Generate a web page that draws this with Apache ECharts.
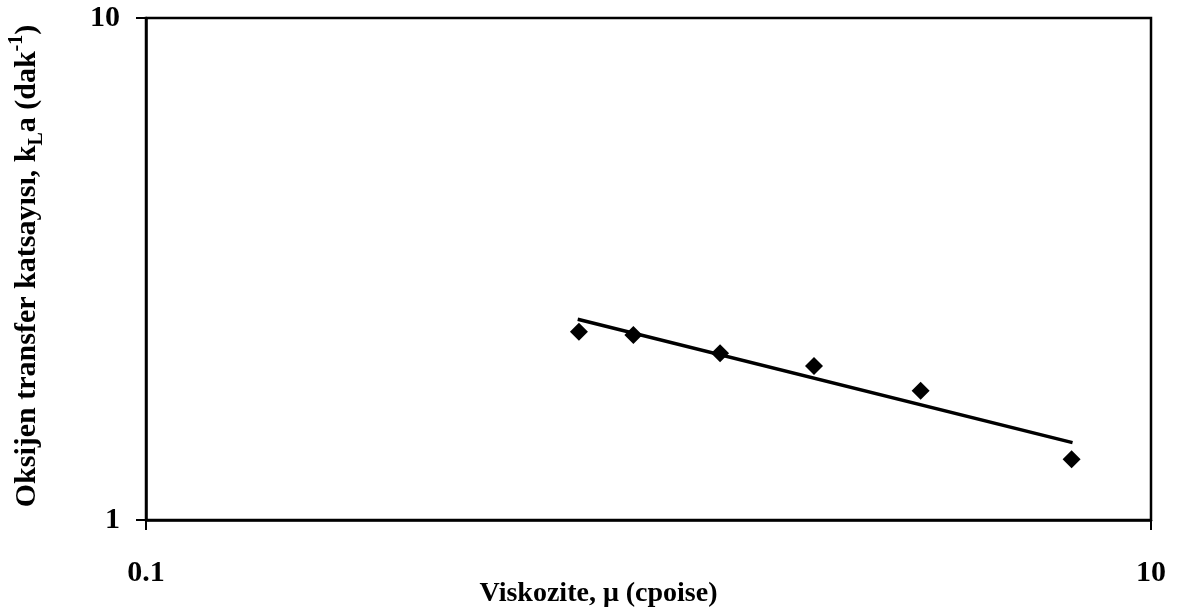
<!DOCTYPE html>
<html>
<head>
<meta charset="utf-8">
<title>kLa - viskozite</title>
<script src="https://cdn.jsdelivr.net/npm/echarts@6/dist/echarts.min.js"></script>
<style>
  html, body { margin: 0; padding: 0; background: #fff; }
  #chart { width: 1181px; height: 616px; }
</style>
</head>
<body>
<div id="chart"></div>
<script>
// olculen noktalar (viskozite, cpoise  -  kLa, 1/dak)
const viscosity = [0.727, 0.933, 1.388, 2.135, 3.48, 6.95]
const kla = [2.372, 2.336, 2.148, 2.026, 1.810, 1.321]
// egilim cizgisi uc noktalari
const fitX = [0.723, 6.98]
const fitY = [2.511, 1.426]
// eksen etiketleri
const xTicks = [0.1, 10]
const yTicks = [1, 10]

const font = '"Liberation Serif", "DejaVu Serif", serif'

const chart = echarts.init(document.getElementById('chart'))

const pairs = (xs, ys) => xs.map((x, i) => [x, ys[i]])

const option = {
  animation: false,
  backgroundColor: '#fff',
  grid: {
    show: true,
    left: 146,
    right: 30,
    top: 18,
    bottom: 96,
    containLabel: false,
    outerBoundsMode: 'none',
    borderColor: '#000',
    borderWidth: 2.5
  },
  xAxis: {
    type: 'log',
    logBase: 10,
    min: 0.1,
    max: 10,
    name: 'Viskozite, μ (cpoise)',
    nameLocation: 'middle',
    nameGap: 60,
    nameMoveOverlap: false,
    nameTextStyle: {
      fontFamily: font,
      fontWeight: 'bold',
      fontSize: 28,
      color: '#000',
      padding: [0, 100, 0, 0]
    },
    axisLine: { lineStyle: { color: '#000', width: 2.5 } },
    axisTick: {
      customValues: xTicks,
      length: 10,
      lineStyle: { color: '#000', width: 2 }
    },
    axisLabel: {
      customValues: xTicks,
      margin: 38,
      fontFamily: font,
      fontWeight: 'bold',
      fontSize: 30,
      color: '#000',
      formatter: (v) => String(+v.toPrecision(3))
    },
    splitLine: { show: false },
    minorTick: { show: false }
  },
  yAxis: {
    type: 'log',
    logBase: 10,
    min: 1,
    max: 10,
    name: 'Oksijen transfer katsayısı, k{sub|L}a (dak{sup|-1})',
    nameLocation: 'middle',
    nameRotate: 90,
    nameGap: 99,
    nameMoveOverlap: false,
    nameTextStyle: {
      fontFamily: font,
      fontWeight: 'bold',
      fontSize: 30,
      color: '#000',
      lineHeight: 40,
      padding: [0, 0, 0, 6],
      rich: {
        sub: { fontFamily: font, fontWeight: 'bold', fontSize: 20, verticalAlign: 'bottom', color: '#000' },
        sup: { fontFamily: font, fontWeight: 'bold', fontSize: 20, verticalAlign: 'top', color: '#000' }
      }
    },
    axisLine: { lineStyle: { color: '#000', width: 2.5 } },
    axisTick: {
      customValues: yTicks,
      length: 10,
      lineStyle: { color: '#000', width: 2 }
    },
    axisLabel: {
      customValues: yTicks,
      margin: 26,
      fontFamily: font,
      fontWeight: 'bold',
      fontSize: 30,
      color: '#000',
      formatter: (v) => String(+v.toPrecision(3))
    },
    splitLine: { show: false },
    minorTick: { show: false }
  },
  series: [
    {
      name: 'egilim',
      type: 'line',
      data: pairs(fitX, fitY),
      showSymbol: false,
      symbol: 'none',
      lineStyle: { color: '#000', width: 3.5 },
      z: 2
    },
    {
      name: 'deney',
      type: 'scatter',
      data: pairs(viscosity, kla),
      symbol: 'diamond',
      symbolSize: 18,
      itemStyle: { color: '#000', opacity: 1 },
      z: 3
    }
  ]
}

chart.setOption(option)
</script>
</body>
</html>
